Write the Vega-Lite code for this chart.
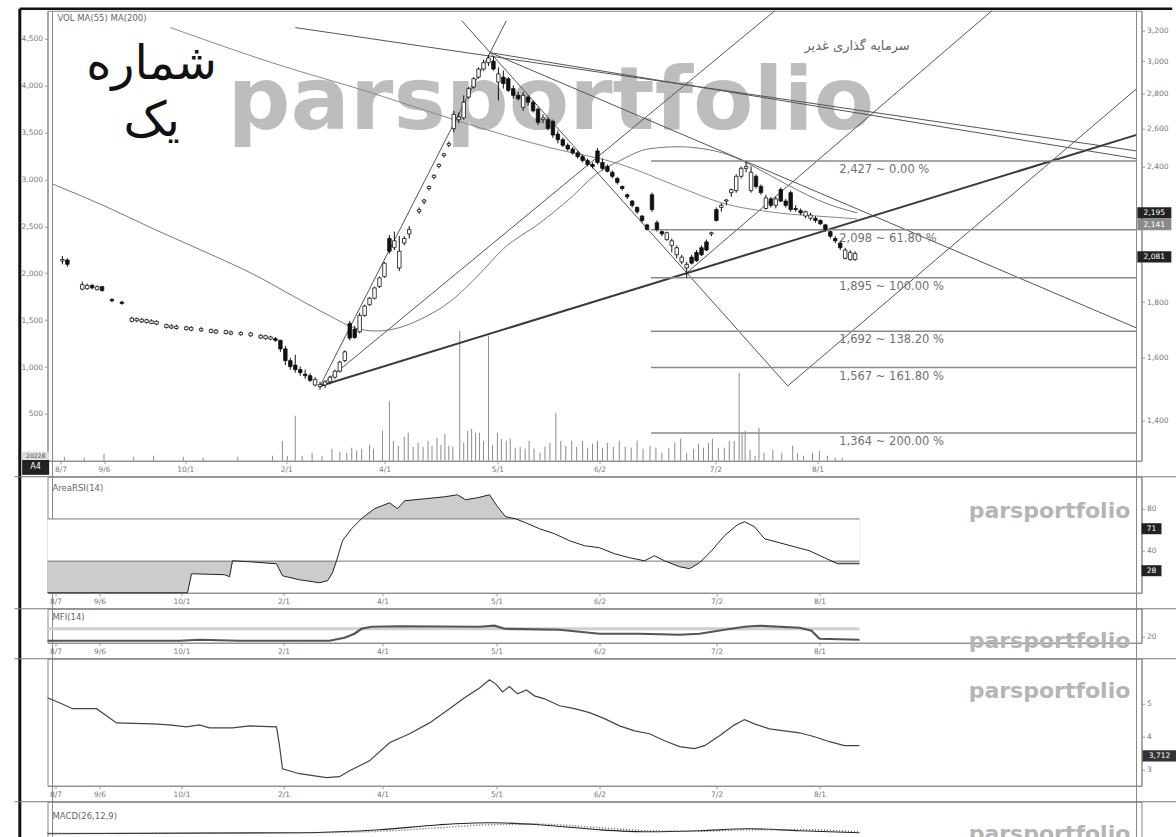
{
"$schema": "https://vega.github.io/schema/vega-lite/v6.json",
"background": "white",
"padding": {"left": 13.5, "top": 6.75, "right": 0, "bottom": 0},
"spacing": 16,
"bounds": "flush",
"config": {
 "view": {"stroke": "#8a8a8a", "strokeWidth": 1},
 "axis": {"grid": false, "labelFont": "DejaVu Sans", "labelFontSize": 7.5, "labelColor": "#777", "tickColor": "#999", "domainColor": "#8a8a8a", "tickSize": 3, "labelPadding": 2},
 "text": {"font": "DejaVu Sans"}
},
"datasets": {
 "candles": [
  {"d":2,"o":1964,"h":1985,"l":1950,"c":1970},{"d":3,"o":1968,"h":1975,"l":1940,"c":1950},
  {"d":6,"o":1850,"h":1880,"l":1845,"c":1868},{"d":7,"o":1852,"h":1872,"l":1848,"c":1865},{"d":8,"o":1865,"h":1870,"l":1850,"c":1855},{"d":9,"o":1848,"h":1865,"l":1845,"c":1860},{"d":10,"o":1860,"h":1862,"l":1840,"c":1845},
  {"d":12,"o":1810,"h":1815,"l":1800,"c":1805},{"d":14,"o":1800,"h":1805,"l":1790,"c":1795},
  {"d":16,"o":1728,"h":1745,"l":1725,"c":1740},{"d":17,"o":1730,"h":1742,"l":1725,"c":1738},{"d":18,"o":1726,"h":1740,"l":1722,"c":1736},{"d":19,"o":1724,"h":1738,"l":1720,"c":1734},{"d":20,"o":1720,"h":1736,"l":1718,"c":1730},{"d":21,"o":1718,"h":1732,"l":1714,"c":1728},
  {"d":23,"o":1706,"h":1720,"l":1702,"c":1716},{"d":24,"o":1704,"h":1718,"l":1700,"c":1712},{"d":25,"o":1702,"h":1716,"l":1698,"c":1710},{"d":27,"o":1698,"h":1712,"l":1695,"c":1708},{"d":28,"o":1696,"h":1710,"l":1692,"c":1706},{"d":30,"o":1694,"h":1708,"l":1690,"c":1702},
  {"d":32,"o":1688,"h":1702,"l":1685,"c":1698},{"d":33,"o":1686,"h":1700,"l":1682,"c":1696},{"d":35,"o":1684,"h":1698,"l":1680,"c":1694},{"d":36,"o":1682,"h":1695,"l":1678,"c":1690},{"d":38,"o":1680,"h":1692,"l":1676,"c":1688},{"d":40,"o":1676,"h":1690,"l":1672,"c":1686},
  {"d":42,"o":1668,"h":1682,"l":1665,"c":1678},{"d":43,"o":1666,"h":1680,"l":1662,"c":1676},{"d":44,"o":1664,"h":1676,"l":1660,"c":1672},{"d":45,"o":1666,"h":1672,"l":1655,"c":1660},
  {"d":46,"o":1660,"h":1662,"l":1620,"c":1630},{"d":47,"o":1630,"h":1640,"l":1575,"c":1590},{"d":48,"o":1590,"h":1600,"l":1560,"c":1570},{"d":49,"o":1575,"h":1610,"l":1550,"c":1560},{"d":50,"o":1560,"h":1570,"l":1540,"c":1550},{"d":51,"o":1545,"h":1560,"l":1530,"c":1540},{"d":52,"o":1540,"h":1548,"l":1520,"c":1525},
  {"d":53,"o":1510,"h":1535,"l":1505,"c":1528},{"d":54,"o":1505,"h":1520,"l":1495,"c":1512},{"d":55,"o":1510,"h":1525,"l":1500,"c":1520},{"d":56,"o":1520,"h":1540,"l":1512,"c":1535},{"d":57,"o":1535,"h":1560,"l":1530,"c":1555},{"d":58,"o":1555,"h":1590,"l":1550,"c":1585},{"d":59,"o":1590,"h":1625,"l":1585,"c":1620},
  {"d":60,"o":1720,"h":1730,"l":1660,"c":1668},{"d":61,"o":1700,"h":1712,"l":1665,"c":1670},{"d":62,"o":1690,"h":1760,"l":1685,"c":1750},{"d":63,"o":1750,"h":1790,"l":1745,"c":1785},{"d":64,"o":1790,"h":1820,"l":1785,"c":1815},{"d":65,"o":1815,"h":1860,"l":1810,"c":1855},{"d":66,"o":1860,"h":1900,"l":1855,"c":1895},{"d":67,"o":1900,"h":1960,"l":1895,"c":1955},
  {"d":68,"o":2060,"h":2075,"l":1995,"c":2005},{"d":69,"o":2020,"h":2090,"l":2010,"c":2050},{"d":70,"o":1935,"h":2071,"l":1923,"c":2005},{"d":71,"o":2040,"h":2070,"l":2030,"c":2060},{"d":72,"o":2080,"h":2115,"l":2060,"c":2100},
  {"d":74,"o":2180,"h":2200,"l":2170,"c":2190},{"d":75,"o":2225,"h":2240,"l":2215,"c":2235},{"d":76,"o":2290,"h":2305,"l":2280,"c":2300},{"d":77,"o":2345,"h":2360,"l":2335,"c":2355},{"d":78,"o":2400,"h":2415,"l":2390,"c":2410},{"d":79,"o":2455,"h":2470,"l":2445,"c":2465},{"d":80,"o":2510,"h":2530,"l":2500,"c":2520},
  {"d":81,"o":2600,"h":2700,"l":2580,"c":2680},{"d":82,"o":2650,"h":2690,"l":2630,"c":2665},{"d":83,"o":2660,"h":2790,"l":2650,"c":2750},{"d":84,"o":2780,"h":2840,"l":2770,"c":2830},{"d":85,"o":2840,"h":2900,"l":2830,"c":2890},{"d":86,"o":2900,"h":2960,"l":2890,"c":2950},{"d":87,"o":2950,"h":3010,"l":2940,"c":2990},{"d":88,"o":2990,"h":3040,"l":2970,"c":3020},
  {"d":89,"o":3000,"h":3030,"l":2940,"c":2950},{"d":90,"o":2870,"h":2960,"l":2760,"c":2920},{"d":91,"o":2900,"h":2940,"l":2830,"c":2860},{"d":92,"o":2890,"h":2900,"l":2810,"c":2820},{"d":93,"o":2830,"h":2850,"l":2770,"c":2790},{"d":94,"o":2790,"h":2810,"l":2760,"c":2770},{"d":95,"o":2720,"h":2810,"l":2700,"c":2790},{"d":96,"o":2780,"h":2790,"l":2730,"c":2750},{"d":97,"o":2750,"h":2760,"l":2690,"c":2700},
  {"d":98,"o":2710,"h":2720,"l":2620,"c":2635},{"d":99,"o":2650,"h":2680,"l":2630,"c":2660},{"d":100,"o":2650,"h":2660,"l":2590,"c":2600},{"d":101,"o":2640,"h":2650,"l":2550,"c":2565},{"d":102,"o":2570,"h":2590,"l":2520,"c":2540},{"d":103,"o":2540,"h":2550,"l":2500,"c":2510},{"d":104,"o":2510,"h":2520,"l":2480,"c":2490},{"d":105,"o":2490,"h":2500,"l":2460,"c":2470},
  {"d":106,"o":2470,"h":2480,"l":2440,"c":2450},{"d":107,"o":2450,"h":2460,"l":2420,"c":2430},{"d":108,"o":2430,"h":2440,"l":2400,"c":2410},{"d":109,"o":2410,"h":2420,"l":2390,"c":2400},{"d":110,"o":2480,"h":2495,"l":2410,"c":2420},{"d":111,"o":2420,"h":2440,"l":2380,"c":2390},{"d":112,"o":2400,"h":2410,"l":2370,"c":2375},
  {"d":113,"o":2370,"h":2380,"l":2340,"c":2350},{"d":114,"o":2340,"h":2345,"l":2310,"c":2320},{"d":115,"o":2300,"h":2305,"l":2280,"c":2290},{"d":116,"o":2260,"h":2265,"l":2240,"c":2250},{"d":117,"o":2230,"h":2235,"l":2200,"c":2210},{"d":118,"o":2200,"h":2205,"l":2170,"c":2180},{"d":119,"o":2160,"h":2165,"l":2130,"c":2140},{"d":120,"o":2120,"h":2125,"l":2095,"c":2100},
  {"d":121,"o":2260,"h":2270,"l":2180,"c":2190},{"d":122,"o":2130,"h":2140,"l":2090,"c":2100},{"d":123,"o":2090,"h":2095,"l":2070,"c":2080},{"d":124,"o":2055,"h":2090,"l":2050,"c":2085},{"d":125,"o":2030,"h":2060,"l":2000,"c":2050},{"d":126,"o":1990,"h":2030,"l":1975,"c":2020},{"d":127,"o":1960,"h":1990,"l":1950,"c":1980},{"d":128,"o":1935,"h":1960,"l":1895,"c":1950},
  {"d":129,"o":1980,"h":1990,"l":1950,"c":1955},{"d":130,"o":2000,"h":2010,"l":1960,"c":1965},{"d":131,"o":2020,"h":2030,"l":1985,"c":1990},{"d":132,"o":2045,"h":2055,"l":2005,"c":2010},{"d":133,"o":2080,"h":2090,"l":2070,"c":2085},{"d":134,"o":2190,"h":2200,"l":2135,"c":2140},{"d":135,"o":2200,"h":2220,"l":2180,"c":2210},{"d":136,"o":2230,"h":2240,"l":2210,"c":2235},
  {"d":137,"o":2270,"h":2290,"l":2250,"c":2285},{"d":138,"o":2280,"h":2360,"l":2270,"c":2350},{"d":139,"o":2350,"h":2400,"l":2340,"c":2390},{"d":140,"o":2390,"h":2427,"l":2370,"c":2400},{"d":141,"o":2280,"h":2400,"l":2270,"c":2370},{"d":142,"o":2350,"h":2360,"l":2290,"c":2300},{"d":143,"o":2300,"h":2310,"l":2260,"c":2270},
  {"d":144,"o":2195,"h":2260,"l":2190,"c":2245},{"d":145,"o":2240,"h":2250,"l":2200,"c":2210},{"d":146,"o":2210,"h":2250,"l":2195,"c":2240},{"d":147,"o":2285,"h":2295,"l":2225,"c":2230},{"d":148,"o":2230,"h":2240,"l":2200,"c":2210},{"d":149,"o":2270,"h":2280,"l":2180,"c":2190},{"d":150,"o":2195,"h":2210,"l":2180,"c":2190},
  {"d":151,"o":2185,"h":2195,"l":2165,"c":2175},{"d":152,"o":2160,"h":2185,"l":2150,"c":2180},{"d":153,"o":2150,"h":2175,"l":2140,"c":2165},{"d":154,"o":2150,"h":2160,"l":2130,"c":2140},{"d":155,"o":2140,"h":2145,"l":2120,"c":2125},{"d":156,"o":2120,"h":2125,"l":2090,"c":2100},{"d":157,"o":2090,"h":2095,"l":2060,"c":2070},
  {"d":158,"o":2060,"h":2070,"l":2040,"c":2050},{"d":159,"o":2040,"h":2050,"l":2010,"c":2020},{"d":160,"o":1975,"h":2020,"l":1970,"c":2010},{"d":161,"o":1970,"h":2010,"l":1965,"c":2000},{"d":162,"o":1970,"h":2005,"l":1965,"c":1995}
 ],
 "vol": [
  {"d":2.4,"v":43},{"d":6.4,"v":32},{"d":10.4,"v":75},{"d":16.4,"v":43},{"d":20.4,"v":53},{"d":26.4,"v":43},{"d":30.4,"v":32},{"d":37.4,"v":43},{"d":44.4,"v":53},{"d":46.4,"v":213},{"d":47.4,"v":53},{"d":49,"v":480},{"d":50.4,"v":53},{"d":52.4,"v":85},{"d":54.4,"v":53},{"d":56.4,"v":128},{"d":58,"v":96},{"d":59.4,"v":85},{"d":60.4,"v":139},{"d":61.4,"v":107},{"d":62.4,"v":128},{"d":64,"v":171},{"d":64.8,"v":128},{"d":66.6,"v":320},{"d":68,"v":640},{"d":68.8,"v":213},{"d":69.8,"v":160},{"d":71,"v":256},{"d":71.8,"v":299},{"d":72.8,"v":149},{"d":73.8,"v":192},{"d":74.8,"v":149},{"d":75.8,"v":213},{"d":76.6,"v":160},{"d":77.6,"v":245},{"d":78.4,"v":171},{"d":79.2,"v":288},{"d":80,"v":160},{"d":80.8,"v":149},{"d":82.2,"v":1387},{"d":83,"v":192},{"d":83.8,"v":320},{"d":84.6,"v":341},{"d":85.4,"v":299},{"d":86.2,"v":299},{"d":87,"v":213},{"d":88,"v":1333},{"d":88.8,"v":171},{"d":89.8,"v":299},{"d":90.6,"v":235},{"d":91.6,"v":213},{"d":92.4,"v":235},{"d":93.4,"v":139},{"d":94.4,"v":149},{"d":95.4,"v":128},{"d":96.2,"v":213},{"d":97.2,"v":128},{"d":98.4,"v":85},{"d":99.4,"v":149},{"d":100.4,"v":192},{"d":101.6,"v":512},{"d":102.6,"v":213},{"d":103.6,"v":160},{"d":104.8,"v":213},{"d":105.8,"v":149},{"d":107,"v":213},{"d":108,"v":139},{"d":109,"v":181},{"d":110,"v":213},{"d":111,"v":139},{"d":112,"v":192},{"d":113.2,"v":149},{"d":114.4,"v":213},{"d":115.6,"v":149},{"d":116.8,"v":139},{"d":118,"v":213},{"d":119.2,"v":128},{"d":120.6,"v":160},{"d":121.8,"v":139},{"d":123,"v":85},{"d":124.4,"v":139},{"d":125.6,"v":192},{"d":126.8,"v":235},{"d":128,"v":85},{"d":129.4,"v":128},{"d":130.4,"v":181},{"d":131.4,"v":139},{"d":132.4,"v":192},{"d":133.2,"v":235},{"d":134.4,"v":139},{"d":135.6,"v":139},{"d":136.6,"v":213},{"d":137.6,"v":213},{"d":138.6,"v":939},{"d":139.2,"v":299},{"d":139.8,"v":320},{"d":140.8,"v":117},{"d":141.8,"v":53},{"d":142.6,"v":352},{"d":143.6,"v":85},{"d":145.4,"v":117},{"d":147.2,"v":85},{"d":149.4,"v":160},{"d":150.4,"v":85},{"d":151.6,"v":53},{"d":153.4,"v":85},{"d":154.8,"v":107},{"d":156.4,"v":53},{"d":158,"v":32},{"d":159.4,"v":32}
 ],
 "maA": [
  {"d":0,"p":2312},{"d":10.4,"p":2208},{"d":20.4,"p":2102},{"d":30.4,"p":2006},{"d":40.4,"p":1911},{"d":50.4,"p":1804},{"d":56.4,"p":1744},{"d":61,"p":1704},{"d":65.4,"p":1693},{"d":69.8,"p":1704},{"d":74.4,"p":1737},{"d":80.4,"p":1804},{"d":86.4,"p":1915},{"d":91,"p":2015},{"d":98.4,"p":2129},{"d":104.4,"p":2241},{"d":109.8,"p":2362},{"d":114.4,"p":2428},{"d":120.4,"p":2491},{"d":126.4,"p":2502},{"d":131.4,"p":2491},{"d":136.4,"p":2460},{"d":142.4,"p":2388},{"d":148.4,"p":2307},{"d":156.4,"p":2217},{"d":162.4,"p":2175}
 ],
 "maB": [
  {"d":23.8,"p":3221},{"d":44.4,"p":2989},{"d":64.4,"p":2805},{"d":81.8,"p":2643},{"d":100.4,"p":2497},{"d":114.4,"p":2413},{"d":126.4,"p":2298},{"d":135,"p":2222},{"d":146.4,"p":2175},{"d":156.4,"p":2157},{"d":162.4,"p":2147}
 ],
 "trend": [
  {"id":"t1","d":54,"p":1507},{"id":"t1","d":91.6,"p":3268},
  {"id":"t2","d":54,"p":1507},{"id":"t2","d":145.8,"p":3338},
  {"id":"t4","d":88.4,"p":3054},{"id":"t4","d":218.8,"p":1704},
  {"id":"t5","d":82.6,"p":3268},{"id":"t5","d":148.4,"p":1507},
  {"id":"t6","d":148.4,"p":1507},{"id":"t6","d":218.8,"p":2829},
  {"id":"t7","d":128,"p":1915},{"id":"t7","d":189.6,"p":3338},
  {"id":"t9","d":49,"p":3221},{"id":"t9","d":218.8,"p":2480},
  {"id":"t10","d":88.4,"p":3054},{"id":"t10","d":218.8,"p":2439}
 ],
 "thick": [{"d":54,"p":1507},{"d":218.8,"p":2566}],
 "fib": [
  {"d1":120.8,"d2":218.8,"p":2427,"t":"2,427 ~ 0.00 %"},
  {"d1":120.8,"d2":218.8,"p":2098,"t":"2,098 ~ 61.80 %"},
  {"d1":120.8,"d2":218.8,"p":1895,"t":"1,895 ~ 100.00 %"},
  {"d1":120.8,"d2":218.8,"p":1692,"t":"1,692 ~ 138.20 %"},
  {"d1":120.8,"d2":218.8,"p":1567,"t":"1,567 ~ 161.80 %"},
  {"d1":120.8,"d2":218.8,"p":1364,"t":"1,364 ~ 200.00 %"}
 ],
 "pbox": [
  {"p":2175,"t":"2,195","k":"b"},{"p":2121,"t":"2,141","k":"g"},{"p":1981,"t":"2,081","k":"b"}
 ],
 "rsi": [
  {"d":0,"v":0},{"d":28,"v":0},{"d":28.8,"v":18},{"d":35.4,"v":17.1},{"d":36.4,"v":15.2},{"d":37,"v":30.3},{"d":40.4,"v":29.4},{"d":45.8,"v":27.5},{"d":47,"v":16.1},{"d":50.4,"v":12.3},{"d":54.4,"v":9.5},{"d":56,"v":11.4},{"d":57,"v":19},{"d":57.8,"v":30.3},{"d":59,"v":49.3},{"d":60.8,"v":60.7},{"d":63,"v":71.1},{"d":65.4,"v":79.7},{"d":68.4,"v":85.3},{"d":70,"v":79.7},{"d":71.4,"v":87.2},{"d":75.4,"v":89.1},{"d":79.4,"v":91},{"d":82,"v":92.9},{"d":83.6,"v":88.2},{"d":86,"v":90.1},{"d":88.4,"v":92.9},{"d":90,"v":81.6},{"d":91.6,"v":72.1},{"d":93.6,"v":70.2},{"d":95.6,"v":66.4},{"d":98.4,"v":60.7},{"d":101.4,"v":56},{"d":104.4,"v":49.3},{"d":107.4,"v":44.6},{"d":110.4,"v":42.7},{"d":113.4,"v":37},{"d":116.4,"v":33.2},{"d":119.4,"v":30.3},{"d":121.4,"v":35.1},{"d":123.4,"v":30.3},{"d":126.4,"v":24.7},{"d":128.4,"v":22.8},{"d":130.4,"v":28.4},{"d":132.8,"v":39.8},{"d":135.4,"v":54.1},{"d":138,"v":64.5},{"d":139.4,"v":67.3},{"d":141.4,"v":62.6},{"d":143.4,"v":51.2},{"d":146.4,"v":47.4},{"d":149.4,"v":43.6},{"d":152.4,"v":39.8},{"d":155.4,"v":33.2},{"d":158,"v":27.5},{"d":162.4,"v":27.5}
 ],
 "mfi": [
  {"d":0,"v":6.7},{"d":26.4,"v":6.7},{"d":30.4,"v":10},{"d":38.4,"v":6.7},{"d":56.4,"v":6.7},{"d":59.4,"v":16.7},{"d":61.4,"v":30},{"d":62.8,"v":46.7},{"d":64.8,"v":53.3},{"d":70.4,"v":55},{"d":86.4,"v":53.3},{"d":89.4,"v":56.7},{"d":91.4,"v":46.7},{"d":102.4,"v":43.3},{"d":106.4,"v":36.7},{"d":110.4,"v":30},{"d":118.4,"v":30},{"d":126.4,"v":26.7},{"d":130.4,"v":30},{"d":135.4,"v":43.3},{"d":139.4,"v":53.3},{"d":142.4,"v":56.7},{"d":150.4,"v":50},{"d":152.8,"v":40},{"d":154.4,"v":13.3},{"d":162.4,"v":10}
 ],
 "obv": [
  {"d":0,"v":5.18},{"d":2.4,"v":5.03},{"d":5,"v":4.85},{"d":9.8,"v":4.85},{"d":13.8,"v":4.42},{"d":21,"v":4.39},{"d":24.4,"v":4.36},{"d":27.8,"v":4.3},{"d":30.4,"v":4.36},{"d":32.4,"v":4.27},{"d":37,"v":4.27},{"d":40.4,"v":4.33},{"d":45.8,"v":4.3},{"d":46.4,"v":3.73},{"d":47,"v":3.03},{"d":50.4,"v":2.88},{"d":55.8,"v":2.76},{"d":58.4,"v":2.79},{"d":60.4,"v":2.97},{"d":64.4,"v":3.27},{"d":68.4,"v":3.82},{"d":72.4,"v":4.09},{"d":76.4,"v":4.42},{"d":80.4,"v":4.85},{"d":83.4,"v":5.18},{"d":86.4,"v":5.48},{"d":88.4,"v":5.73},{"d":89.8,"v":5.58},{"d":91,"v":5.36},{"d":92.4,"v":5.52},{"d":94,"v":5.3},{"d":95.8,"v":5.42},{"d":97.4,"v":5.24},{"d":99.4,"v":5.15},{"d":102.4,"v":4.94},{"d":105.4,"v":4.85},{"d":108.4,"v":4.73},{"d":111.4,"v":4.55},{"d":114.4,"v":4.33},{"d":117.4,"v":4.18},{"d":120.4,"v":4.09},{"d":123.4,"v":3.88},{"d":126.4,"v":3.7},{"d":129.4,"v":3.64},{"d":131.4,"v":3.73},{"d":134.4,"v":4.03},{"d":137.4,"v":4.36},{"d":139.4,"v":4.52},{"d":141.4,"v":4.39},{"d":144.4,"v":4.24},{"d":147.4,"v":4.18},{"d":150.4,"v":4.12},{"d":153.4,"v":4},{"d":156.4,"v":3.85},{"d":159.4,"v":3.73},{"d":162.4,"v":3.73}
 ],
 "macd": [
  {"d":0,"m":18,"s":18.5},{"d":50.4,"m":19,"s":19},{"d":66.4,"m":22,"s":20.5},{"d":78.4,"m":27,"s":24},{"d":88.4,"m":29,"s":27},{"d":98.4,"m":27,"s":27.5},{"d":110.4,"m":22,"s":24},{"d":120.4,"m":20,"s":21},{"d":130.4,"m":21,"s":20.5},{"d":140.4,"m":23,"s":22},{"d":150.4,"m":21,"s":22},{"d":162.4,"m":19,"s":20}
 ]
},
"vconcat": [
 {
  "width": 1094, "height": 450,
  "layer": [
   {
    "data": {"name": "vol"},
    "mark": {"type": "rule", "color": "#8c8c8c", "strokeWidth": 1},
    "encoding": {
     "x": {"field": "d", "type": "quantitative", "scale": {"domain": [0, 218.8], "nice": false, "zero": false}, "title": null,
       "axis": {"values": [1.6, 10.4, 26.8, 47.2, 67, 89.8, 110.4, 133.8, 154.4], "labelExpr": "datum.value < 5 ? '8/7' : datum.value < 20 ? '9/6' : datum.value < 40 ? '10/1' : datum.value < 60 ? '2/1' : datum.value < 80 ? '4/1' : datum.value < 100 ? '5/1' : datum.value < 120 ? '6/2' : datum.value < 145 ? '7/2' : '8/1'"}},
     "y": {"field": "v", "type": "quantitative", "scale": {"domain": [0, 4800], "nice": false}, "title": null,
       "axis": {"orient": "left", "values": [500, 1000, 1500, 2000, 2500, 3000, 3500, 4000, 4500], "labelExpr": "format(datum.value, ',')"}},
     "y2": {"datum": 0}
    }
   },
   {
    "layer": [
     {"data": {"values": [{}]}, "mark": {"type": "text", "text": "parsportfolio", "font": "DejaVu Sans", "fontWeight": "bold", "fontSize": 88, "fill": "#bdbdbd", "align": "center", "baseline": "alphabetic"},
      "encoding": {"x": {"datum": 100.6}, "y": {"datum": 2599}}},
     {"data": {"values": [{}]}, "mark": {"type": "text", "text": "شماره", "font": "DejaVu Sans", "fontSize": 48, "fill": "#111", "align": "center", "baseline": "middle"},
      "encoding": {"x": {"datum": 20}, "y": {"datum": 2976}}},
     {"data": {"values": [{}]}, "mark": {"type": "text", "text": "یک", "font": "DejaVu Sans", "fontSize": 48, "fill": "#111", "align": "center", "baseline": "middle"},
      "encoding": {"x": {"datum": 20}, "y": {"datum": 2639}}},
     {"data": {"values": [{}]}, "mark": {"type": "text", "text": "سرمایه گذاری غدیر", "font": "DejaVu Sans", "fontSize": 13, "fill": "#666", "align": "center", "baseline": "middle"},
      "encoding": {"x": {"datum": 162.4}, "y": {"datum": 3100}}},
     {"data": {"values": [{}]}, "mark": {"type": "text", "text": "VOL MA(55) MA(200)", "font": "DejaVu Sans", "fontSize": 8.5, "fill": "#666", "align": "left", "baseline": "middle"},
      "encoding": {"x": {"datum": 1}, "y": {"datum": 3289}}},
     {"data": {"name": "maA"}, "mark": {"type": "line", "color": "#777", "strokeWidth": 1, "interpolate": "monotone"},
      "encoding": {"x": {"field": "d", "type": "quantitative", "scale": {"domain": [0, 218.8], "nice": false, "zero": false}, "title": null},
       "y": {"field": "p", "type": "quantitative", "scale": {"type": "log", "domain": [1286, 3338], "nice": false}, "title": null,
         "axis": {"orient": "right", "values": [1400, 1600, 1800, 2400, 2600, 2800, 3000, 3200], "labelExpr": "format(datum.value, ',')"}}}},
     {"data": {"name": "maB"}, "mark": {"type": "line", "color": "#888", "strokeWidth": 1, "interpolate": "monotone"},
      "encoding": {"x": {"field": "d", "type": "quantitative", "scale": {"domain": [0, 218.8], "nice": false, "zero": false}, "title": null},
       "y": {"field": "p", "type": "quantitative", "scale": {"type": "log", "domain": [1286, 3338], "nice": false}, "title": null}}},
     {"data": {"name": "trend"}, "mark": {"type": "line", "color": "#555", "strokeWidth": 1},
      "encoding": {"x": {"field": "d", "type": "quantitative", "scale": {"domain": [0, 218.8], "nice": false, "zero": false}, "title": null},
       "y": {"field": "p", "type": "quantitative", "scale": {"type": "log", "domain": [1286, 3338], "nice": false}, "title": null},
       "detail": {"field": "id", "type": "nominal"}}},
     {"data": {"name": "thick"}, "mark": {"type": "line", "color": "#3a3a3a", "strokeWidth": 2},
      "encoding": {"x": {"field": "d", "type": "quantitative", "scale": {"domain": [0, 218.8], "nice": false, "zero": false}, "title": null},
       "y": {"field": "p", "type": "quantitative", "scale": {"type": "log", "domain": [1286, 3338], "nice": false}, "title": null}}},
     {"data": {"name": "fib"}, "mark": {"type": "rule", "color": "#8a8a8a", "strokeWidth": 1.5},
      "encoding": {"x": {"field": "d1", "type": "quantitative", "scale": {"domain": [0, 218.8], "nice": false, "zero": false}, "title": null},
       "x2": {"field": "d2"},
       "y": {"field": "p", "type": "quantitative", "scale": {"type": "log", "domain": [1286, 3338], "nice": false}, "title": null}}},
     {"data": {"name": "fib"}, "mark": {"type": "text", "font": "DejaVu Sans", "fontSize": 11.5, "fill": "#707070", "align": "left", "baseline": "middle", "dy": 9},
      "encoding": {"x": {"datum": 158.8},
       "y": {"field": "p", "type": "quantitative", "scale": {"type": "log", "domain": [1286, 3338], "nice": false}, "title": null},
       "text": {"field": "t"}}},
     {"data": {"name": "candles"}, "mark": {"type": "rule", "color": "#111", "strokeWidth": 1},
      "encoding": {"x": {"field": "d", "type": "quantitative", "scale": {"domain": [0, 218.8], "nice": false, "zero": false}, "title": null},
       "y": {"field": "l", "type": "quantitative", "scale": {"type": "log", "domain": [1286, 3338], "nice": false}, "title": null},
       "y2": {"field": "h"}}},
     {"data": {"name": "candles"}, "mark": {"type": "bar", "width": 3.5, "stroke": "#111", "strokeWidth": 0.8},
      "encoding": {"x": {"field": "d", "type": "quantitative", "scale": {"domain": [0, 218.8], "nice": false, "zero": false}, "title": null},
       "y": {"field": "o", "type": "quantitative", "scale": {"type": "log", "domain": [1286, 3338], "nice": false}, "title": null},
       "y2": {"field": "c"},
       "fill": {"condition": {"test": "datum.c < datum.o", "value": "#111"}, "value": "white"}}},
     {"data": {"name": "pbox"}, "mark": {"type": "point", "shape": "M-1,-0.33L1,-0.33L1,0.33L-1,0.33Z", "size": 1156, "filled": true, "opacity": 1},
      "encoding": {"x": {"datum": 222.4},
       "y": {"field": "p", "type": "quantitative", "scale": {"type": "log", "domain": [1286, 3338], "nice": false}, "title": null},
       "color": {"condition": {"test": "datum.k == 'b'", "value": "#222"}, "value": "#8a8a8a"}}},
     {"data": {"name": "pbox"}, "mark": {"type": "text", "font": "DejaVu Sans", "fontSize": 7.5, "fill": "white", "align": "center", "baseline": "middle"},
      "encoding": {"x": {"datum": 222.4},
       "y": {"field": "p", "type": "quantitative", "scale": {"type": "log", "domain": [1286, 3338], "nice": false}, "title": null},
       "text": {"field": "t"}}},
     {"data": {"values": [{}]}, "mark": {"type": "point", "shape": "M-1,-0.3L1,-0.3L1,0.3L-1,0.3Z", "size": 729, "filled": true, "color": "#dcdcdc", "opacity": 1},
      "encoding": {"x": {"datum": -3.4}, "y": {"datum": 1300}}},
     {"data": {"values": [{}]}, "mark": {"type": "text", "text": "20228", "font": "DejaVu Sans", "fontSize": 6, "fill": "#555", "align": "center", "baseline": "middle"},
      "encoding": {"x": {"datum": -3.4}, "y": {"datum": 1300}}},
     {"data": {"values": [{}]}, "mark": {"type": "point", "shape": "M-1,-0.55L1,-0.55L1,0.55L-1,0.55Z", "size": 729, "filled": true, "color": "#222", "opacity": 1},
      "encoding": {"x": {"datum": -3.4}, "y": {"datum": 1268}}},
     {"data": {"values": [{}]}, "mark": {"type": "text", "text": "A4", "font": "DejaVu Sans", "fontSize": 8, "fill": "white", "align": "center", "baseline": "middle"},
      "encoding": {"x": {"datum": -3.4}, "y": {"datum": 1268}}},
     {"data": {"values": [{}]}, "mark": {"type": "rule", "color": "#111", "strokeWidth": 3},
      "encoding": {"x": {"datum": -6.6}, "y": {"datum": 500}, "y2": {"datum": 3352}}},
     {"data": {"values": [{}]}, "mark": {"type": "rule", "color": "#111", "strokeWidth": 2.5},
      "encoding": {"x": {"datum": -6.6}, "x2": {"datum": 226}, "y": {"datum": 3352}}},
     {"data": {"values": [{}]}, "mark": {"type": "rule", "color": "#8a8a8a", "strokeWidth": 1},
      "encoding": {"x": {"datum": 218.8}, "y": {"datum": 500}, "y2": {"datum": 3338}}},
     {"data": {"values": [{}]}, "mark": {"type": "rule", "color": "#8a8a8a", "strokeWidth": 1},
      "encoding": {"x": {"datum": 0}, "y": {"datum": 500}, "y2": {"datum": 3338}}}
    ]
   }
  ],
  "resolve": {"scale": {"y": "independent"}, "axis": {"y": "independent"}}
 },
 {
  "width": 1094, "height": 116,
  "layer": [
   {"data": {"name": "rsi"}, "mark": {"type": "area", "color": "#cccccc", "opacity": 1},
    "encoding": {
     "x": {"field": "d", "type": "quantitative", "scale": {"domain": [0, 218.8], "nice": false, "zero": false}, "title": null,
       "axis": {"values": [1.6, 10.4, 26.8, 47.2, 67, 89.8, 110.4, 133.8, 154.4], "labelExpr": "datum.value < 5 ? '8/7' : datum.value < 20 ? '9/6' : datum.value < 40 ? '10/1' : datum.value < 60 ? '2/1' : datum.value < 80 ? '4/1' : datum.value < 100 ? '5/1' : datum.value < 120 ? '6/2' : datum.value < 145 ? '7/2' : '8/1'"}},
     "y": {"field": "v", "type": "quantitative", "scale": {"domain": [0, 110], "nice": false}, "title": null,
       "axis": {"orient": "right", "values": [40, 80]}},
     "y2": {"datum": 70}}},
   {"data": {"values": [{}]}, "mark": {"type": "rect", "color": "white", "opacity": 1},
    "encoding": {"x": {"datum": 0}, "x2": {"datum": 162.4}, "y": {"datum": 30}, "y2": {"datum": 70}}},
   {"data": {"values": [{"lv": 70}, {"lv": 30}]}, "mark": {"type": "rule", "color": "#777", "strokeWidth": 1},
    "encoding": {"x": {"datum": 0}, "x2": {"datum": 162.4}, "y": {"field": "lv", "type": "quantitative"}}},
   {"data": {"name": "rsi"}, "mark": {"type": "line", "color": "#222", "strokeWidth": 1},
    "encoding": {"x": {"field": "d", "type": "quantitative"}, "y": {"field": "v", "type": "quantitative"}}},
   {"data": {"values": [{}]}, "mark": {"type": "text", "text": "AreaRSI(14)", "fontSize": 8.5, "fill": "#666", "align": "left", "baseline": "middle"},
    "encoding": {"x": {"datum": 1}, "y": {"datum": 99.6}}},
   {"data": {"values": [{}]}, "mark": {"type": "text", "text": "parsportfolio", "fontWeight": "bold", "fontSize": 22, "fill": "#b5b5b5", "align": "center", "baseline": "middle"},
    "encoding": {"x": {"datum": 200.4}, "y": {"datum": 77.8}}},
   {"data": {"values": [{"v": 60.7, "t": "71"}, {"v": 20.9, "t": "28"}]}, "mark": {"type": "point", "shape": "M-1,-0.55L1,-0.55L1,0.55L-1,0.55Z", "size": 400, "filled": true, "color": "#222", "opacity": 1},
    "encoding": {"x": {"datum": 220.8}, "y": {"field": "v", "type": "quantitative"}}},
   {"data": {"values": [{"v": 60.7, "t": "71"}, {"v": 20.9, "t": "28"}]}, "mark": {"type": "text", "fontSize": 7.5, "fill": "white", "align": "center", "baseline": "middle"},
    "encoding": {"x": {"datum": 220.8}, "y": {"field": "v", "type": "quantitative"}, "text": {"field": "t"}}},
   {"data": {"values": [{}]}, "mark": {"type": "rule", "color": "#777", "strokeWidth": 1},
    "encoding": {"x": {"datum": -6.6}, "x2": {"datum": 226}, "y": {"datum": 110}}}
  ]
 },
 {
  "width": 1094, "height": 34,
  "layer": [
   {"data": {"values": [{"lv": 46.7}]}, "mark": {"type": "rule", "color": "#cfcfcf", "strokeWidth": 3},
    "encoding": {
     "x": {"datum": 0},
     "x2": {"datum": 162.4},
     "y": {"field": "lv", "type": "quantitative", "scale": {"domain": [0, 113.3], "nice": false}, "title": null,
       "axis": {"orient": "right", "values": [20]}}}},
   {"data": {"name": "mfi"}, "mark": {"type": "line", "color": "#555", "strokeWidth": 2.2},
    "encoding": {
     "x": {"field": "d", "type": "quantitative", "scale": {"domain": [0, 218.8], "nice": false, "zero": false}, "title": null,
       "axis": {"values": [1.6, 10.4, 26.8, 47.2, 67, 89.8, 110.4, 133.8, 154.4], "labelExpr": "datum.value < 5 ? '8/7' : datum.value < 20 ? '9/6' : datum.value < 40 ? '10/1' : datum.value < 60 ? '2/1' : datum.value < 80 ? '4/1' : datum.value < 100 ? '5/1' : datum.value < 120 ? '6/2' : datum.value < 145 ? '7/2' : '8/1'"}},
     "y": {"field": "v", "type": "quantitative"}}},
   {"data": {"values": [{}]}, "mark": {"type": "text", "text": "MFI(14)", "fontSize": 8.5, "fill": "#666", "align": "left", "baseline": "middle"},
    "encoding": {"x": {"datum": 1}, "y": {"datum": 86.7}}},
   {"data": {"values": [{}]}, "mark": {"type": "text", "text": "parsportfolio", "fontWeight": "bold", "fontSize": 22, "fill": "#b5b5b5", "align": "center", "baseline": "middle"},
    "encoding": {"x": {"datum": 200.4}, "y": {"datum": 6.7}}},
   {"data": {"values": [{}]}, "mark": {"type": "rule", "color": "#777", "strokeWidth": 1},
    "encoding": {"x": {"datum": -6.6}, "x2": {"datum": 226}, "y": {"datum": 113.3}}}
  ]
 },
 {
  "width": 1094, "height": 127,
  "layer": [
   {"data": {"name": "obv"}, "mark": {"type": "line", "color": "#444", "strokeWidth": 1.2},
    "encoding": {
     "x": {"field": "d", "type": "quantitative", "scale": {"domain": [0, 218.8], "nice": false, "zero": false}, "title": null,
       "axis": {"values": [1.6, 10.4, 26.8, 47.2, 67, 89.8, 110.4, 133.8, 154.4], "labelExpr": "datum.value < 5 ? '8/7' : datum.value < 20 ? '9/6' : datum.value < 40 ? '10/1' : datum.value < 60 ? '2/1' : datum.value < 80 ? '4/1' : datum.value < 100 ? '5/1' : datum.value < 120 ? '6/2' : datum.value < 145 ? '7/2' : '8/1'"}},
     "y": {"field": "v", "type": "quantitative", "scale": {"domain": [2.515, 6.364], "nice": false, "zero": false}, "title": null,
       "axis": {"orient": "right", "values": [3, 4, 5], "labelExpr": "format(datum.value, 'd')"}}}},
   {"data": {"values": [{}]}, "mark": {"type": "text", "text": "parsportfolio", "fontWeight": "bold", "fontSize": 22, "fill": "#b5b5b5", "align": "center", "baseline": "middle"},
    "encoding": {"x": {"datum": 200.4}, "y": {"datum": 5.39}}},
   {"data": {"values": [{}]}, "mark": {"type": "point", "shape": "M-1,-0.33L1,-0.33L1,0.33L-1,0.33Z", "size": 1156, "filled": true, "color": "#333", "opacity": 1},
    "encoding": {"x": {"datum": 222.4}, "y": {"datum": 3.42}}},
   {"data": {"values": [{}]}, "mark": {"type": "text", "text": "3,712", "fontSize": 7.5, "fill": "white", "align": "center", "baseline": "middle"},
    "encoding": {"x": {"datum": 222.4}, "y": {"datum": 3.42}}},
   {"data": {"values": [{}]}, "mark": {"type": "rule", "color": "#777", "strokeWidth": 1},
    "encoding": {"x": {"datum": -6.6}, "x2": {"datum": 226}, "y": {"datum": 6.364}}}
  ]
 },
 {
  "width": 1094, "height": 50,
  "layer": [
   {"data": {"name": "macd"}, "mark": {"type": "line", "color": "#222", "strokeWidth": 1.2, "interpolate": "monotone"},
    "encoding": {
     "x": {"field": "d", "type": "quantitative", "scale": {"domain": [0, 218.8], "nice": false, "zero": false}, "title": null,
       "axis": {"values": [1.6, 10.4, 26.8, 47.2, 67, 89.8, 110.4, 133.8, 154.4], "labels": false}},
     "y": {"field": "m", "type": "quantitative", "scale": {"domain": [0, 50], "nice": false}, "title": null, "axis": null}}},
   {"data": {"name": "macd"}, "mark": {"type": "line", "color": "#666", "strokeWidth": 1.5, "strokeDash": [1, 2], "interpolate": "monotone"},
    "encoding": {"x": {"field": "d", "type": "quantitative"}, "y": {"field": "s", "type": "quantitative"}}},
   {"data": {"values": [{}]}, "mark": {"type": "text", "text": "MACD(26,12,9)", "fontSize": 8.5, "fill": "#666", "align": "left", "baseline": "middle"},
    "encoding": {"x": {"datum": 1}, "y": {"datum": 36}}},
   {"data": {"values": [{}]}, "mark": {"type": "text", "text": "parsportfolio", "fontWeight": "bold", "fontSize": 22, "fill": "#b5b5b5", "align": "center", "baseline": "middle"},
    "encoding": {"x": {"datum": 200.4}, "y": {"datum": 18}}},
   {"data": {"values": [{}]}, "mark": {"type": "rule", "color": "#777", "strokeWidth": 1},
    "encoding": {"x": {"datum": -6.6}, "x2": {"datum": 226}, "y": {"datum": 50}}}
  ]
 }
]
}
